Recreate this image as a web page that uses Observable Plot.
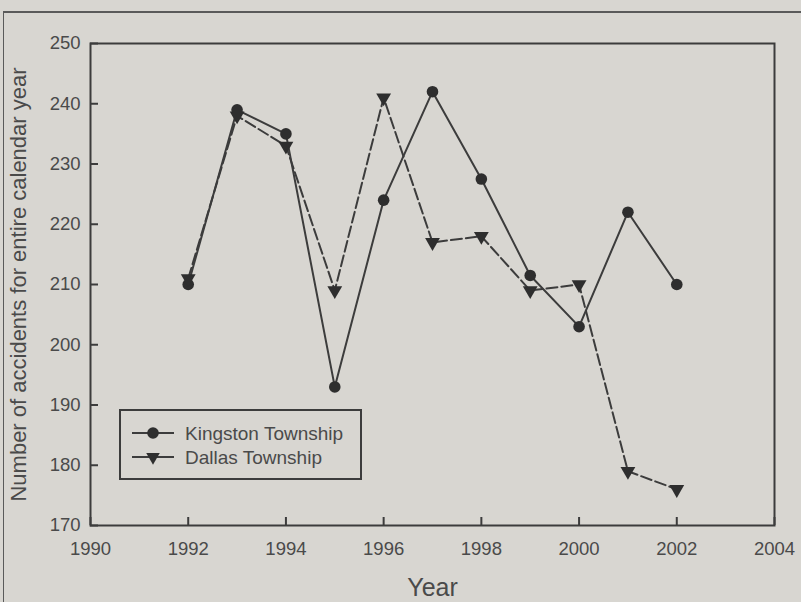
<!DOCTYPE html>
<html>
<head>
<meta charset="utf-8">
<script src="https://cdn.jsdelivr.net/npm/d3@7"></script>
<script src="https://cdn.jsdelivr.net/npm/@observablehq/plot@0.6"></script>
<style>
  html, body { margin: 0; padding: 0; background: #d8d6d1; }
  #wrap { position: relative; width: 801px; height: 602px; overflow: hidden; background: #d8d6d1; }
  #border { position: absolute; left: 3px; top: 11px; width: 900px; height: 700px; border-left: 1.5px solid #5a5a5a; border-top: 2px solid #5a5a5a; }
  #legend { position: absolute; left: 119px; top: 409px; }
  svg text { font-family: "Liberation Sans", Arial, sans-serif; }
</style>
</head>
<body>
<div id="wrap"><div id="border"></div><div id="chart"></div><div id="legend"></div></div>
<script>
const years = [1992, 1993, 1994, 1995, 1996, 1997, 1998, 1999, 2000, 2001, 2002];
const kingston = [210, 239, 235, 193, 224, 242, 227.5, 211.5, 203, 222, 210];
const dallas = [211, 238, 233, 209, 241, 217, 218, 209, 210, 179, 176];
const xTicks = [1990, 1992, 1994, 1996, 1998, 2000, 2002, 2004];
const yTicks = [170, 180, 190, 200, 210, 220, 230, 240, 250];
const seriesNames = ["Kingston Township", "Dallas Township"];

const ink = "#3c3c3c";
const textInk = "#4a4a4a";
const W = 801, H = 602, mL = 90, mR = 27, mT = 43, mB = 77, tick = 8;
const kData = years.map((x, i) => ({x, y: kingston[i]}));
const dData = years.map((x, i) => ({x, y: dallas[i]}));

const chart = Plot.plot({
  width: W,
  height: H,
  marginLeft: mL,
  marginRight: mR,
  marginTop: mT,
  marginBottom: mB,
  style: {background: "transparent", color: textInk, fontSize: "18px", fontFamily: "Liberation Sans, Arial, sans-serif"},
  x: {domain: [1990, 2004]},
  y: {domain: [170, 250]},
  marks: [
    Plot.axisX({ticks: xTicks, tickSize: 0, tickPadding: 16, tickFormat: d => String(d), fontSize: 18.5, fill: textInk,
      label: "Year", labelArrow: "none", labelAnchor: "center", labelOffset: 70}),
    Plot.axisY({ticks: yTicks, tickSize: 0, tickPadding: 10, tickFormat: d => String(d), fontSize: 18.5, fill: textInk,
      label: "Number of accidents for entire calendar year", labelArrow: "none", labelAnchor: "center", labelOffset: 80}),
    Plot.ruleX(xTicks, {x: d => d, insetTop: (H - mT - mB) - tick, stroke: ink, strokeWidth: 2}),
    Plot.ruleY(yTicks, {y: d => d, insetRight: (W - mL - mR) - tick, stroke: ink, strokeWidth: 2}),
    Plot.frame({stroke: ink, strokeWidth: 2}),
    Plot.line(dData, {x: "x", y: "y", stroke: ink, strokeWidth: 2, strokeDasharray: "11,4"}),
    Plot.line(kData, {x: "x", y: "y", stroke: ink, strokeWidth: 2}),
    Plot.dot(kData, {x: "x", y: "y", r: 5.8, fill: "#2e2e2e", stroke: "none"}),
    Plot.dot(dData, {x: "x", y: "y", r: 5.5, symbol: "triangle", rotate: 180, fill: "#2e2e2e", stroke: "none"})
  ]
});
document.getElementById("chart").appendChild(chart);

chart.querySelectorAll("g[aria-label='x-axis label'] text").forEach(t => { t.setAttribute("font-size", "25"); t.textContent = t.textContent.replace(/[↑→←↓]/g, "").trim(); });
chart.querySelectorAll("g[aria-label='y-axis label'] text").forEach(t => { t.setAttribute("font-size", "22"); t.textContent = t.textContent.replace(/[↑→←↓]/g, "").trim(); });

const lg = d3.select("#legend").append("svg").attr("width", 245).attr("height", 72);
lg.append("rect").attr("x", 1).attr("y", 1).attr("width", 241).attr("height", 69)
  .attr("fill", "none").attr("stroke", ink).attr("stroke-width", 2);
seriesNames.forEach((name, i) => {
  const yy = 24 + i * 24;
  lg.append("line").attr("x1", 13).attr("x2", 55).attr("y1", yy).attr("y2", yy)
    .attr("stroke", ink).attr("stroke-width", 2);
  if (i === 0) {
    lg.append("circle").attr("cx", 34).attr("cy", yy).attr("r", 5.8).attr("fill", "#2e2e2e");
  } else {
    lg.append("path").attr("d", d3.symbol(d3.symbolTriangle, 80)()).attr("transform", `translate(34,${yy}) rotate(180)`).attr("fill", "#2e2e2e");
  }
  lg.append("text").attr("x", 66).attr("y", yy + 7).attr("font-size", 19).attr("fill", textInk).text(name);
});
</script>
</body>
</html>
